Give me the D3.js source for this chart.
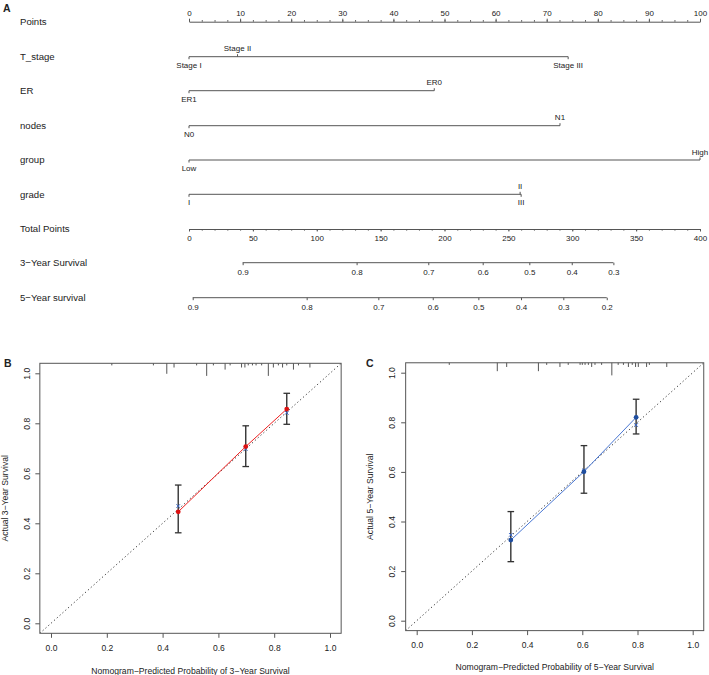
<!DOCTYPE html>
<html><head><meta charset="utf-8">
<script src="https://cdn.jsdelivr.net/npm/d3@7"></script>
<style>
body{margin:0;background:#fff;}
svg{display:block;font-family:"Liberation Sans",Arial,Helvetica,sans-serif;}
</style>
</head><body>
<svg id="chart" width="709" height="675"></svg>
<script>
// ---------------- DATA ----------------
// Nomogram (panel A)
const pointsTicks = [0,10,20,30,40,50,60,70,80,90,100];
const tStageLevels = ["Stage I","Stage II","Stage III"];
const tStagePoints = [0, 9.5, 74.2];
const tStageSide   = ["below","above","below"];
const erLevels = ["ER1","ER0"];
const erPoints = [0, 48.0];
const erSide   = ["below","above"];
const nodesLevels = ["N0","N1"];
const nodesPoints = [0, 72.6];
const nodesSide   = ["below","above"];
const groupLevels = ["Low","High"];
const groupPoints = [0, 100];
const groupSide   = ["below","above"];
const gradeLevels = ["I","II","III"];
const gradePoints = [0, 64.8, 65.0];
const gradeSide   = ["below","above","below"];
const totalTicks = [0,50,100,150,200,250,300,350,400];
const surv3Labels = ["0.9","0.8","0.7","0.6","0.5","0.4","0.3"];
const surv3Total  = [42.0,131.2,187.3,229.9,266.4,299.6,332.2];
const surv5Labels = ["0.9","0.8","0.7","0.6","0.5","0.4","0.3","0.2"];
const surv5Total  = [2.9,92.1,148.2,190.8,226.5,259.9,293.0,327.0];

// Calibration panel B (3-year)
const calB_pred = [0.456, 0.698, 0.845];
const calB_obs  = [0.446, 0.707, 0.857];
const calB_lo   = [0.362, 0.627, 0.796];
const calB_hi   = [0.553, 0.790, 0.920];
const calB_corr = [0.469, 0.697, 0.842];
const rugB_x = [0.218,0.367,0.415,0.441,0.522,0.558,0.582,0.624,0.642,0.683,0.695,0.707,0.722,0.735,0.755,0.779,0.797,0.815,0.830,0.845,0.869,0.887,0.928];
const rugB_n = [1,1,5,2,1,6,1,3,1,2,2,1,1,1,1,6,2,1,2,1,3,1,2];

// Calibration panel C (5-year)
const calC_pred = [0.341, 0.606, 0.795];
const calC_obs  = [0.325, 0.601, 0.820];
const calC_lo   = [0.238, 0.514, 0.753];
const calC_hi   = [0.440, 0.706, 0.893];
const calC_corr = [0.346, 0.606, 0.789];
const rugC_x = [0.118,0.292,0.326,0.441,0.471,0.519,0.549,0.592,0.600,0.610,0.622,0.634,0.646,0.670,0.707,0.730,0.749,0.767,0.781,0.793,0.803,0.833,0.843,0.906];
const rugC_n = [1,4,2,4,1,2,1,1,1,1,1,2,1,1,6,1,1,2,1,2,2,2,1,2];

const calTicks = [0,0.2,0.4,0.6,0.8,1.0];

// ---------------- DRAW ----------------
const svg = d3.select("#chart");
const ink = "#222", lineCol = "#555";
const rowFont = 9.6, tickFont = 8;

// panel letters
svg.append("text").attr("x",3).attr("y",11.5).attr("font-size",10.5).attr("font-weight","bold").attr("fill",ink).text("A");

const xPts = d3.scaleLinear().domain([0,100]).range([189,700]);
const xTot = d3.scaleLinear().domain([0,400]).range([189,700]);

function rowLabel(y, txt){
  svg.append("text").attr("x",20).attr("y",y+3.4).attr("font-size",rowFont).attr("fill",ink).text(txt);
}

// Points axis
const yPoints = 21.7;
rowLabel(yPoints, "Points");
const gP = svg.append("g").attr("transform",`translate(0,${yPoints})`);
gP.call(d3.axisTop(xPts).tickValues(pointsTicks).tickSize(3).tickSizeOuter(0).tickPadding(3))
  .call(g=>g.select(".domain").attr("stroke",lineCol))
  .call(g=>g.selectAll(".tick line").attr("stroke",lineCol))
  .call(g=>g.selectAll(".tick text").attr("font-size",tickFont).attr("fill",ink).attr("font-family",null));
gP.append("g").call(d3.axisTop(xPts).tickValues(d3.range(0,100.01,2.5)).tickSize(1.6).tickFormat(""))
  .call(g=>g.select(".domain").remove())
  .call(g=>g.selectAll(".tick line").attr("stroke",lineCol));

// variable rows
function varRow(y, name, levels, pts, sides){
  rowLabel(y, name);
  const g = svg.append("g").attr("transform",`translate(0,${y})`);
  g.append("line").attr("x1",xPts(d3.min(pts))).attr("x2",xPts(d3.max(pts)))
    .attr("y1",0).attr("y2",0).attr("stroke",lineCol).attr("stroke-width",1);
  levels.forEach((lv,i)=>{
    const x = xPts(pts[i]);
    const dir = sides[i]==="above" ? -1 : 1;
    g.append("line").attr("x1",x).attr("x2",x).attr("y1",0).attr("y2",dir*2.5).attr("stroke",lineCol);
    g.append("text").attr("x",x).attr("y", dir>0 ? 11 : -5.3)
      .attr("text-anchor","middle").attr("font-size",tickFont).attr("fill",ink).text(lv);
  });
}
varRow(56.7, "T_stage", tStageLevels, tStagePoints, tStageSide);
varRow(90.7, "ER", erLevels, erPoints, erSide);
varRow(125.7, "nodes", nodesLevels, nodesPoints, nodesSide);
varRow(160.0, "group", groupLevels, groupPoints, groupSide);
varRow(194.3, "grade", gradeLevels, gradePoints, gradeSide);

// Total points
const yTot = 229;
rowLabel(yTot, "Total Points");
const gT = svg.append("g").attr("transform",`translate(0,${yTot})`);
gT.call(d3.axisBottom(xTot).tickValues(totalTicks).tickSize(2.5).tickSizeOuter(0).tickPadding(3.5))
  .call(g=>g.select(".domain").attr("stroke",lineCol))
  .call(g=>g.selectAll(".tick line").attr("stroke",lineCol))
  .call(g=>g.selectAll(".tick text").attr("font-size",tickFont).attr("fill",ink).attr("font-family",null));
gT.append("g").call(d3.axisBottom(xTot).tickValues(d3.range(0,400.01,10)).tickSize(1.6).tickFormat(""))
  .call(g=>g.select(".domain").remove())
  .call(g=>g.selectAll(".tick line").attr("stroke",lineCol));

function survRow(y, name, labels, totals){
  rowLabel(y, name);
  const g = svg.append("g").attr("transform",`translate(0,${y})`);
  g.call(d3.axisBottom(xTot).tickValues(totals).tickFormat((d,i)=>labels[i]).tickSize(2.5).tickPadding(4))
    .call(g=>g.select(".domain").remove())
    .call(g=>g.selectAll(".tick line").attr("stroke",lineCol))
    .call(g=>g.selectAll(".tick text").attr("font-size",tickFont).attr("fill",ink).attr("font-family",null));
  g.append("line").attr("x1",xTot(d3.min(totals))).attr("x2",xTot(d3.max(totals)))
    .attr("y1",0).attr("y2",0).attr("stroke",lineCol);
}
survRow(262.7, "3\u2212Year Survival", surv3Labels, surv3Total);
survRow(297.7, "5\u2212Year survival", surv5Labels, surv5Total);

// ---------- calibration panels ----------
function calPanel(cfg){
  const x = d3.scaleLinear().domain([0,1]).range([cfg.x0,cfg.x1]);
  const y = d3.scaleLinear().domain([0,1]).range([cfg.y0,cfg.y1]);
  const L = x(-0.04), R = x(1.04), T = y(1.04), B = y(-0.04);
  const g = svg.append("g");
  svg.append("text").attr("x",cfg.letterX).attr("y",T+4).attr("font-size",10.5).attr("font-weight","bold").attr("fill",ink).text(cfg.letter);
  const cid = "clip"+cfg.letter;
  svg.append("clipPath").attr("id",cid).append("rect").attr("x",L).attr("y",T).attr("width",R-L).attr("height",B-T);
  // ideal diagonal
  g.append("line").attr("clip-path",`url(#${cid})`)
    .attr("x1",x(-0.04)).attr("y1",y(-0.04)).attr("x2",x(1.04)).attr("y2",y(1.04))
    .attr("stroke","#333").attr("stroke-width",1).attr("stroke-dasharray","1.2,2.6");
  // box
  g.append("rect").attr("x",L).attr("y",T).attr("width",R-L).attr("height",B-T)
    .attr("fill","none").attr("stroke",lineCol).attr("stroke-width",1);
  // axes
  const ax = g.append("g").attr("transform",`translate(0,${B})`)
    .call(d3.axisBottom(x).tickValues(calTicks).tickFormat(d3.format(".1f")).tickSize(4.5).tickPadding(7.2));
  ax.select(".domain").remove();
  ax.selectAll(".tick line").attr("stroke",lineCol);
  ax.selectAll(".tick text").attr("font-size",8.5).attr("fill",ink).attr("font-family",null);
  const ay = g.append("g").attr("transform",`translate(${L},0)`)
    .call(d3.axisLeft(y).tickValues(calTicks).tickFormat(d3.format(".1f")).tickSize(4.5));
  ay.select(".domain").remove();
  ay.selectAll(".tick line").attr("stroke",lineCol);
  ay.selectAll(".tick text").attr("font-size",8.5).attr("fill",ink).attr("font-family",null)
    .attr("text-anchor","middle").attr("transform","rotate(-90)").attr("x",0).attr("y",-13.3).attr("dy","0.35em");
  // titles
  g.append("text").attr("x",(L+R)/2).attr("y",cfg.xTitleY).attr("text-anchor","middle")
    .attr("font-size",8.6).attr("fill",ink).text(cfg.xTitle);
  g.append("text").attr("transform",`translate(${cfg.yTitleX},${(T+B)/2}) rotate(-90)`).attr("text-anchor","middle")
    .attr("font-size",8.6).attr("fill",ink).text(cfg.yTitle);
  // rug (frequency ticks from top)
  cfg.rugX.forEach((v,i)=>{
    g.append("line").attr("x1",x(v)).attr("x2",x(v)).attr("y1",T).attr("y2",T+cfg.rugN[i]*2.1)
      .attr("stroke",lineCol).attr("stroke-width",1);
  });
  // error bars
  cfg.pred.forEach((p,i)=>{
    const xx = x(p);
    g.append("line").attr("x1",xx).attr("x2",xx).attr("y1",y(cfg.lo[i])).attr("y2",y(cfg.hi[i])).attr("stroke","#333").attr("stroke-width",1.4);
    [cfg.lo[i],cfg.hi[i]].forEach(v=>{
      g.append("line").attr("x1",xx-3.3).attr("x2",xx+3.3).attr("y1",y(v)).attr("y2",y(v)).attr("stroke","#333").attr("stroke-width",1.3);
    });
  });
  // observed line
  const line = d3.line().x(d=>x(d[0])).y(d=>y(d[1]));
  g.append("path").datum(cfg.pred.map((p,i)=>[p,cfg.obs[i]])).attr("d",line)
    .attr("fill","none").attr("stroke",cfg.lineColor).attr("stroke-width",1);
  // bias-corrected x marks
  cfg.pred.forEach((p,i)=>{
    const xx = x(p), yy = y(cfg.corr[i]), s = 1.8;
    g.append("path").attr("d",`M${xx-s},${yy-s}L${xx+s},${yy+s}M${xx-s},${yy+s}L${xx+s},${yy-s}`)
      .attr("stroke","#3a66c4").attr("stroke-width",1);
  });
  // observed points
  g.selectAll(null).data(cfg.pred).enter().append("circle")
    .attr("cx",d=>x(d)).attr("cy",(d,i)=>y(cfg.obs[i])).attr("r",2.4).attr("fill",cfg.pointColor);
}

calPanel({letter:"B", letterX:4, x0:51, x1:330, y0:623.3, y1:373.3,
  xTitleY:673.5, yTitleX:7.5,
  xTitle:"Nomogram\u2212Predicted Probability of 3\u2212Year Survival",
  yTitle:"Actual 3\u2212Year Survival",
  pred:calB_pred, obs:calB_obs, lo:calB_lo, hi:calB_hi, corr:calB_corr,
  rugX:rugB_x, rugN:rugB_n, lineColor:"#ee2222", pointColor:"#dd1111"});

calPanel({letter:"C", letterX:366, x0:416.7, x1:692.7, y0:620.7, y1:372.7,
  xTitleY:669.5, yTitleX:373,
  xTitle:"Nomogram\u2212Predicted Probability of 5\u2212Year Survival",
  yTitle:"Actual 5\u2212Year Survival",
  pred:calC_pred, obs:calC_obs, lo:calC_lo, hi:calC_hi, corr:calC_corr,
  rugX:rugC_x, rugN:rugC_n, lineColor:"#4a78d4", pointColor:"#1f4ea0"});
</script>
</body></html>
